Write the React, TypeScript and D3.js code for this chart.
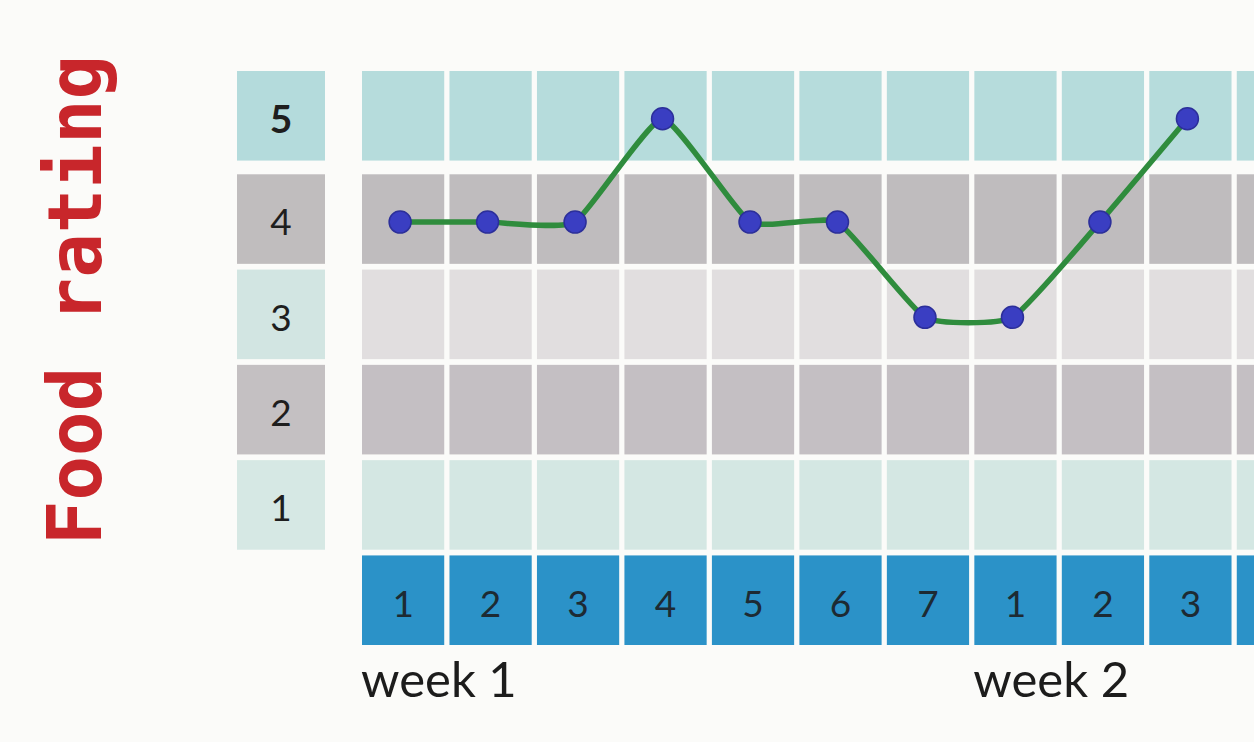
import React from 'react';
import * as d3 from 'd3';

// days along the bottom (the last column is cut off by the page edge, its label is not visible)
const dayLabels = ['1', '2', '3', '4', '5', '6', '7', '1', '2', '3', ''];
// food rating per day, one per column that has a point
const ratings = [4, 4, 4, 5, 4, 4, 3, 3, 4, 5];
const ratingLevels = [5, 4, 3, 2, 1];
const weekLabels = ['week 1', 'week 2'];
const weekStartIndex = [0, 7];

const W = 1254;
const H = 742;

const rowColors: Record<string, string> = {
  '5': '#b6dcdc',
  '4': '#bfbcbe',
  '3': '#e1dedf',
  '2': '#c4bfc3',
  '1': '#d4e7e3',
  day: '#2b92c8',
};
const labelColors: Record<string, string> = {
  '5': '#b4dbdc',
  '4': '#c0bdbe',
  '3': '#d2e5e2',
  '2': '#c4c0c2',
  '1': '#d6e8e4',
};

export default function App() {
  const cols = dayLabels.map((_, i) => i);
  const x = d3.scaleBand<number>().domain(cols).range([362, 1319]).paddingInner(0.06).paddingOuter(0);

  const rowKeys = [...ratingLevels.map(String), 'day'];
  const band = d3.scaleBand<string>().domain(rowKeys).range([79, 645]).paddingInner(0.06).paddingOuter(0);
  // the top row sits a little higher, with a wider white gap below it
  const rowY = (k: string) => (band(k) as number) - (k === '5' ? 8 : 0);
  const yVal = (v: number) => rowY(String(v)) + band.bandwidth() / 2 + 3;
  const xPt = (i: number) => (x(i) as number) + x.bandwidth() / 2 - 3;

  const line = d3
    .line<number>()
    .x((_, i) => xPt(i))
    .y((d) => yVal(d))
    .curve(d3.curveCardinal.tension(0.55));

  const labelX = 237;
  const labelW = 88;
  const font = 'Lato, "Open Sans", sans-serif';

  return (
    <svg width={W} height={H} style={{ position: 'absolute', left: 0, top: 0, background: '#fbfbf9' }}>
      {/* y title */}
      <text
        transform={`translate(101, ${300}) rotate(-90)`}
        textAnchor="middle"
        fontFamily='"DejaVu Sans Mono", monospace'
        fontWeight={700}
        fontSize={74}
        fill="#c8262b"
        textLength={490}
        lengthAdjust="spacingAndGlyphs"
      >
        Food rating
      </text>

      {/* rating labels column */}
      {ratingLevels.map((r) => (
        <g key={'lab' + r}>
          <rect x={labelX} y={rowY(String(r))} width={labelW} height={band.bandwidth()} fill={labelColors[String(r)]} />
          <text
            x={labelX + labelW / 2}
            y={rowY(String(r)) + band.bandwidth() / 2 + 3}
            dy="0.36em"
            textAnchor="middle"
            fontFamily={font}
            fontSize={r === 5 ? 39 : 37}
            fontWeight={r === 5 ? 700 : 400}
            fill="#1e1e1e"
          >
            {r}
          </text>
        </g>
      ))}

      {/* grid cells */}
      {rowKeys.map((k) =>
        cols.map((c) => (
          <rect
            key={k + '-' + c}
            x={x(c)}
            y={rowY(k)}
            width={x.bandwidth()}
            height={band.bandwidth()}
            fill={rowColors[k]}
          />
        ))
      )}

      {/* day numbers */}
      {dayLabels.map((d, i) =>
        d ? (
          <text
            key={'d' + i}
            x={(x(i) as number) + x.bandwidth() / 2}
            y={rowY('day') + band.bandwidth() / 2 + 3}
            dy="0.36em"
            textAnchor="middle"
            fontFamily={font}
            fontSize={37}
            fill="#1d2a33"
          >
            {d}
          </text>
        ) : null
      )}

      {/* week labels */}
      {weekLabels.map((w, i) => (
        <text
          key={w}
          x={(x(weekStartIndex[i]) as number) - 1}
          y={697}
          fontFamily={font}
          fontSize={49}
          fill="#1c1c1c"
        >
          {w}
        </text>
      ))}

      {/* rating line */}
      <path d={line(ratings) || ''} fill="none" stroke="#2f8c3d" strokeWidth={5.5} strokeLinecap="round" strokeLinejoin="round" />
      {ratings.map((r, i) => (
        <circle
          key={'p' + i}
          cx={xPt(i)}
          cy={yVal(r)}
          r={11}
          fill="#3a3ec2"
          stroke="#2c2f9a"
          strokeWidth={1.5}
        />
      ))}
    </svg>
  );
}
